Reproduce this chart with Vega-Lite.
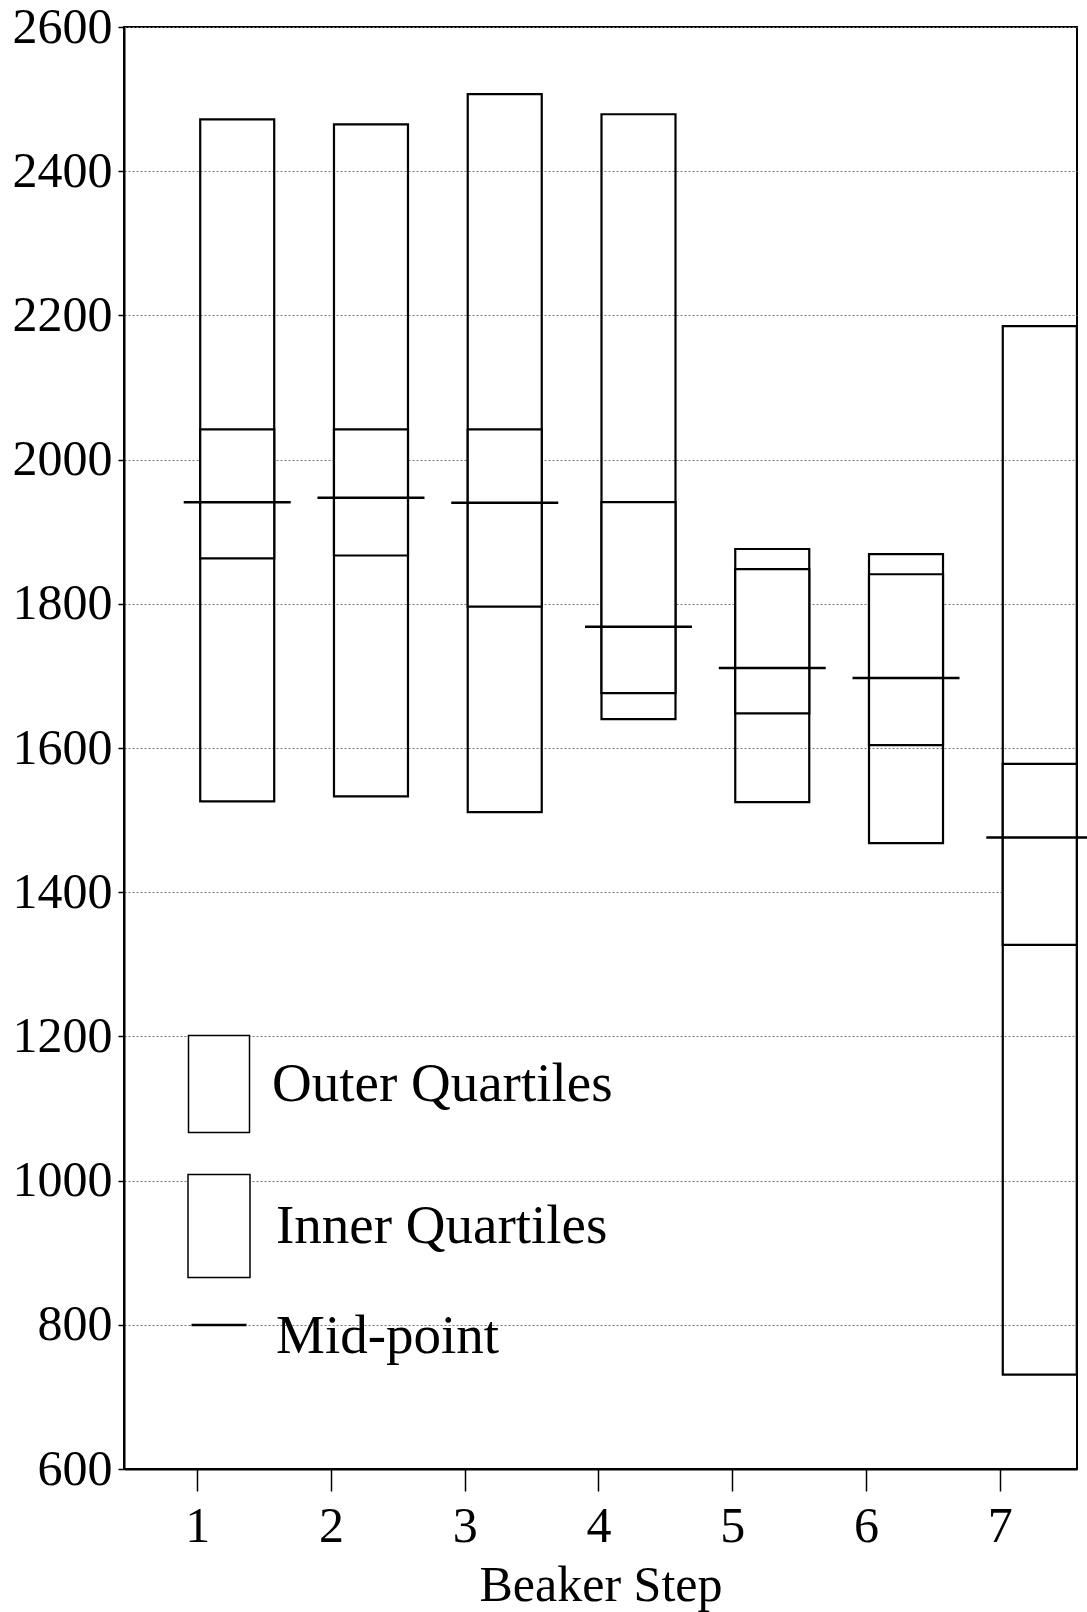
{
  "$schema": "https://vega.github.io/schema/vega-lite/v6.json",
  "width": 953,
  "height": 1442,
  "autosize": {"type": "none"},
  "padding": {"left": 124, "top": 27, "right": 10, "bottom": 143},
  "background": "white",
  "data": {
    "values": [
      {"step": 1, "outer_low": 1526, "outer_high": 2472, "inner_low": 1863, "inner_high": 2042, "mid": 1941},
      {"step": 2, "outer_low": 1533, "outer_high": 2465, "inner_low": 1867, "inner_high": 2042, "mid": 1947},
      {"step": 3, "outer_low": 1511, "outer_high": 2507, "inner_low": 1796, "inner_high": 2042, "mid": 1940},
      {"step": 4, "outer_low": 1640, "outer_high": 2479, "inner_low": 1676, "inner_high": 1941, "mid": 1768},
      {"step": 5, "outer_low": 1525, "outer_high": 1876, "inner_low": 1648, "inner_high": 1848, "mid": 1711},
      {"step": 6, "outer_low": 1468, "outer_high": 1869, "inner_low": 1604, "inner_high": 1841, "mid": 1697},
      {"step": 7, "outer_low": 731, "outer_high": 2185, "inner_low": 1327, "inner_high": 1578, "mid": 1476}
    ]
  },
  "encoding": {
    "x": {
      "field": "step",
      "type": "quantitative",
      "scale": {"domain": [0.49, 7.54], "nice": false, "zero": false},
      "axis": {
        "values": [1, 2, 3, 4, 5, 6, 7],
        "format": "d",
        "title": "Beaker Step",
        "grid": false,
        "tickSize": 22,
        "labelPadding": 10,
        "titlePadding": 9
      }
    }
  },
  "layer": [
    {
      "mark": {"type": "bar", "width": 74, "xOffset": 40, "fill": "white", "fillOpacity": 0, "strokeWidth": 2.2},
      "encoding": {
        "y": {
          "field": "outer_low",
          "type": "quantitative",
          "title": null,
          "scale": {"domain": [600, 2600], "nice": false, "zero": false},
          "axis": {
            "values": [600, 800, 1000, 1200, 1400, 1600, 1800, 2000, 2200, 2400, 2600],
            "format": "d",
            "grid": true,
            "tickSize": 6,
            "labelPadding": 6
          }
        },
        "y2": {"field": "outer_high"},
        "stroke": {
          "datum": "Outer Quartiles",
          "scale": {"range": ["black"]},
          "legend": {
            "orient": "none",
            "legendX": 44,
            "legendY": 1006,
            "title": null,
            "symbolType": "M-0.61,-0.97H0.61V0.97H-0.61Z",
            "symbolSize": 10000,
            "labelOffset": 2,
            "encode": {
              "symbols": {
                "update": {
                  "fill": {"value": "white"},
                  "fillOpacity": {"value": 1},
                  "stroke": {"value": "black"},
                  "strokeWidth": {"value": 2.2}
                }
              }
            }
          }
        }
      }
    },
    {
      "mark": {"type": "bar", "width": 74, "xOffset": 40, "stroke": "black", "strokeWidth": 2.2},
      "encoding": {
        "y": {"field": "inner_low", "type": "quantitative", "title": null},
        "y2": {"field": "inner_high"},
        "fill": {
          "datum": "Inner Quartiles",
          "scale": {"range": ["white"]},
          "legend": {
            "orient": "none",
            "legendX": 44,
            "legendY": 1148,
            "title": null,
            "symbolType": "M-0.62,-1.03H0.62V1.03H-0.62Z",
            "symbolSize": 10000,
            "labelOffset": 6,
            "encode": {
              "symbols": {
                "update": {
                  "fill": {"value": "white"},
                  "fillOpacity": {"value": 1},
                  "stroke": {"value": "black"},
                  "strokeWidth": {"value": 2.2}
                }
              }
            }
          }
        }
      }
    },
    {
      "mark": {"type": "tick", "orient": "horizontal", "size": 107, "thickness": 2.5, "xOffset": 40, "color": "black", "opacity": 1},
      "encoding": {
        "y": {"field": "mid", "type": "quantitative", "title": null},
        "opacity": {
          "datum": "Mid-point",
          "scale": {"range": [1]},
          "legend": {
            "orient": "none",
            "legendX": 44,
            "legendY": 1258,
            "title": null,
            "symbolType": "M-0.55,-0.245H0.55V-0.195H-0.55Z",
            "symbolSize": 10000,
            "labelOffset": 6,
            "encode": {
              "symbols": {
                "update": {
                  "fill": {"value": "black"},
                  "fillOpacity": {"value": 1},
                  "stroke": {"value": "black"},
                  "strokeWidth": {"value": 0.5},
                  "opacity": {"value": 1}
                }
              }
            }
          }
        }
      }
    }
  ],
  "config": {
    "font": "Liberation Serif",
    "view": {"stroke": "black", "strokeWidth": 2},
    "axis": {
      "labelFont": "Liberation Serif",
      "labelFontSize": 50,
      "labelColor": "black",
      "titleFont": "Liberation Serif",
      "titleFontSize": 50,
      "titleFontWeight": "normal",
      "titleColor": "black",
      "domainColor": "black",
      "domainWidth": 2,
      "tickColor": "black",
      "tickWidth": 1.5,
      "gridColor": "#777777",
      "gridDash": [2, 2],
      "gridWidth": 1,
      "labelFlush": false,
      "labelOverlap": false
    },
    "legend": {
      "labelFont": "Liberation Serif",
      "labelFontSize": 55,
      "labelColor": "black",
      "labelLimit": 600,
      "padding": 0
    }
  }
}
